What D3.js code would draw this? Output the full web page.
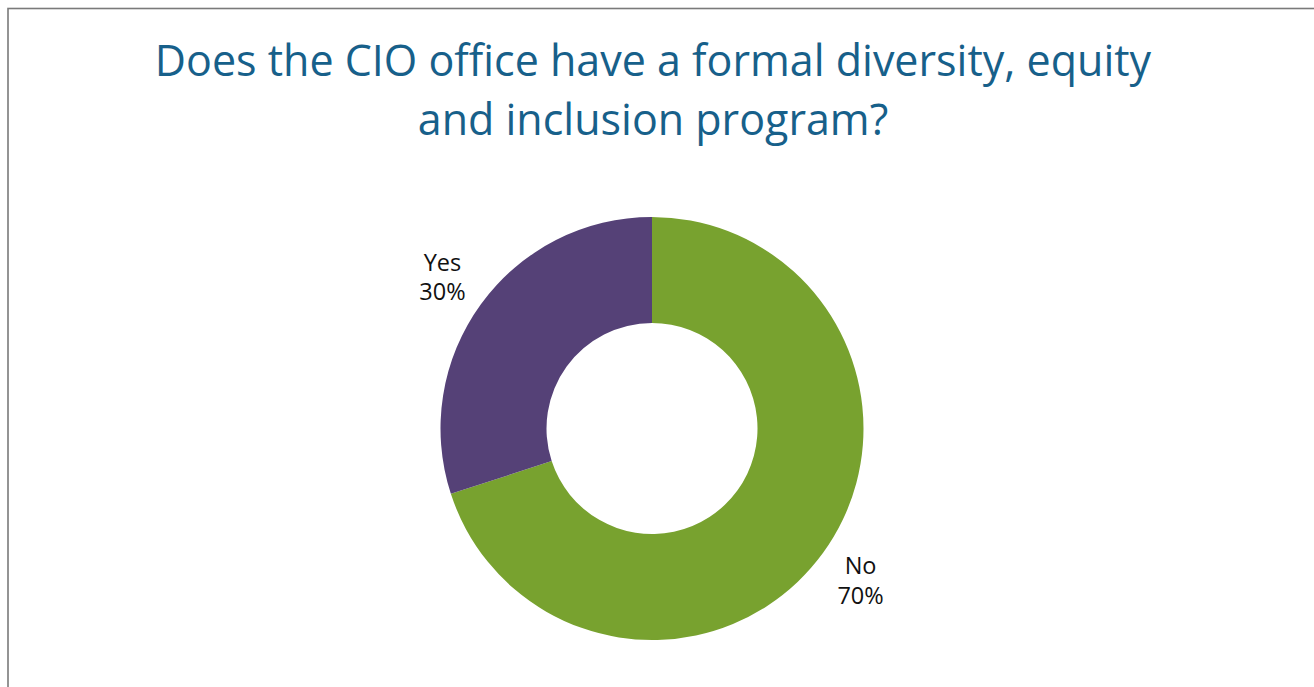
<!DOCTYPE html>
<html>
<head>
<meta charset="utf-8">
<script src="https://cdn.jsdelivr.net/npm/d3@7"></script>
<style>
  html, body { margin: 0; padding: 0; background: #fff; overflow: hidden; }
  svg { display: block; }
</style>
</head>
<body>
<svg id="chart" width="1314" height="687"></svg>
<script>
// Survey answers and their shares (percent)
const categories = ["No", "Yes"];
const values = [70, 30];
const colors = ["#78A22F", "#554177"];
const titleLines = ["Does the CIO office have a formal diversity, equity", "and inclusion program?"];

const svg = d3.select("#chart");
const W = 1314, H = 687;

// Frame of the chart area
svg.append("rect")
  .attr("x", 8).attr("y", 8.5)
  .attr("width", W + 20).attr("height", H + 20)
  .attr("fill", "#fff")
  .attr("stroke", "#7a7a7a")
  .attr("stroke-width", 1.6);

// Title
const title = svg.append("text")
  .attr("text-anchor", "middle")
  .attr("font-family", "'Open Sans', sans-serif")
  .attr("font-size", 43)
  .attr("fill", "#17608A");
titleLines.forEach((line, i) => {
  title.append("tspan")
    .attr("x", 653)
    .attr("y", 76 + i * 59)
    .text(line);
});

// Donut
const cx = 652, cy = 428.5;
const outerR = 211.5, innerR = 105.5;

const data = categories.map((c, i) => ({ label: c, value: values[i], color: colors[i] }));
const pie = d3.pie().value(d => d.value).sort(null);
const arc = d3.arc().innerRadius(innerR).outerRadius(outerR);
const arcs = pie(data);

const g = svg.append("g").attr("transform", `translate(${cx},${cy})`);
g.selectAll("path")
  .data(arcs)
  .join("path")
  .attr("d", arc)
  .attr("fill", d => d.data.color);

// Outside labels placed along each slice's mid-angle
const labelOffsets = { "No": [-3, -2], "Yes": [2, 2] };
const labels = g.selectAll("text.lbl")
  .data(arcs)
  .join("text")
  .attr("class", "lbl")
  .attr("text-anchor", "middle")
  .attr("font-family", "'Open Sans', sans-serif")
  .attr("font-size", 23.5)
  .attr("fill", "#111");

labels.each(function(d) {
  const ang = (d.startAngle + d.endAngle) / 2;
  const r = outerR + 50;
  const off = labelOffsets[d.data.label];
  const x = Math.sin(ang) * r + off[0];
  const y = -Math.cos(ang) * r + off[1];
  const t = d3.select(this);
  t.append("tspan").attr("x", x).attr("y", y - 6).text(d.data.label);
  t.append("tspan").attr("x", x).attr("y", y + 23.5).text(d3.format(".0%")(d.data.value / 100));
});
</script>
</body>
</html>
